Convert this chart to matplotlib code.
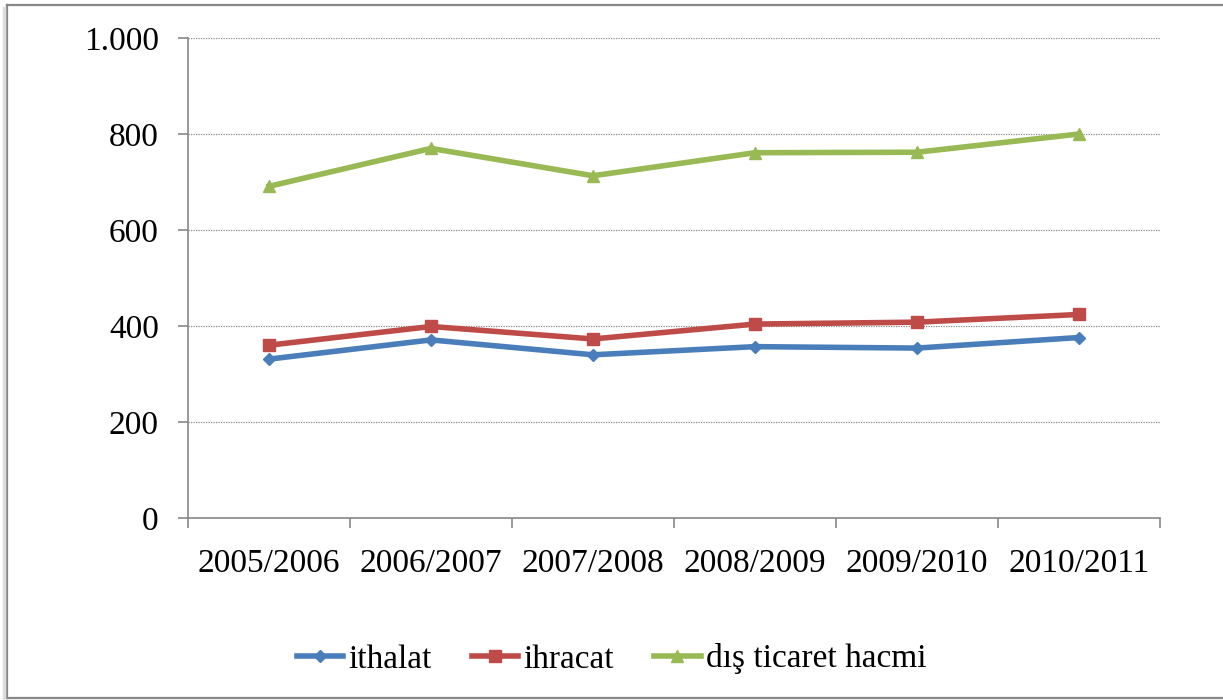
import matplotlib
matplotlib.use("Agg")
import matplotlib.pyplot as plt
from matplotlib.lines import Line2D

categories = ["2005/2006", "2006/2007", "2007/2008", "2008/2009", "2009/2010", "2010/2011"]
ithalat = [331, 371, 340, 357, 354, 376]
ihracat = [360, 399, 373, 404, 408, 424]
dis_ticaret = [691, 770, 713, 761, 762, 800]
series_names = ["ithalat", "ihracat", "dış ticaret hacmi"]
y_ticks = [0, 200, 400, 600, 800, 1000]
y_tick_labels = ["0", "200", "400", "600", "800", "1.000"]

plt.rcParams['font.family'] = ['Liberation Serif', 'DejaVu Serif']

W, H = 1223, 700
fig = plt.figure(figsize=(W / 100, H / 100), dpi=100)
ax = fig.add_axes([188 / W, 1 - 518 / H, 972 / W, 480 / H])

x = list(range(len(categories)))
ax.plot(x, ithalat, color="#4A7EBB", lw=4, marker="D", ms=6, label=series_names[0])
ax.plot(x, ihracat, color="#BE4B48", lw=4, marker="s", ms=8, label=series_names[1])
ax.plot(x, dis_ticaret, color="#98B954", lw=4, marker="^", ms=9, label=series_names[2])

ax.set_xlim(-0.5, len(categories) - 0.5)
ax.set_ylim(0, 1000)
ax.set_yticks(y_ticks)
ax.set_yticklabels(y_tick_labels)
ax.set_xticks([i - 0.5 for i in range(len(categories) + 1)])
ax.set_xticklabels([])
ax.set_xticks(x, minor=True)
ax.set_xticklabels(categories, minor=True)

ax.tick_params(axis="y", which="major", length=7, width=1.2, color="#888888", pad=14, labelsize=24)
ax.tick_params(axis="x", which="major", length=7, width=1.2, color="#888888")
ax.tick_params(axis="x", which="minor", length=0, pad=22, labelsize=24)

for s in ["top", "right"]:
    ax.spines[s].set_visible(False)
for s in ["left", "bottom"]:
    ax.spines[s].set_color("#888888")
    ax.spines[s].set_linewidth(1.2)

ax.grid(axis="y", color="#888888", linestyle=(0, (1, 1)), linewidth=0.9)
ax.set_axisbelow(True)

fig.legend(loc="center", bbox_to_anchor=(0.5, 1 - 659 / H), ncol=3, frameon=False,
           fontsize=24, handlelength=1.4, handletextpad=0.15, columnspacing=1.2)

# outer frame
c = "#888888"
fig.add_artist(Line2D([7 / W, 7 / W], [1 - 5 / H, 1 - 698 / H], transform=fig.transFigure, color=c, lw=1.6))
fig.add_artist(Line2D([7 / W, 1.0], [1 - 5 / H, 1 - 5 / H], transform=fig.transFigure, color=c, lw=1.6))
fig.add_artist(Line2D([7 / W, 1.0], [1 - 698 / H, 1 - 698 / H], transform=fig.transFigure, color=c, lw=1.6))
fig.add_artist(Line2D([4 / W, 4 / W], [1 - 8 / H, 1 - 698 / H], transform=fig.transFigure, color="#dddddd", lw=2.5))

fig.savefig("out.png", dpi=100)
